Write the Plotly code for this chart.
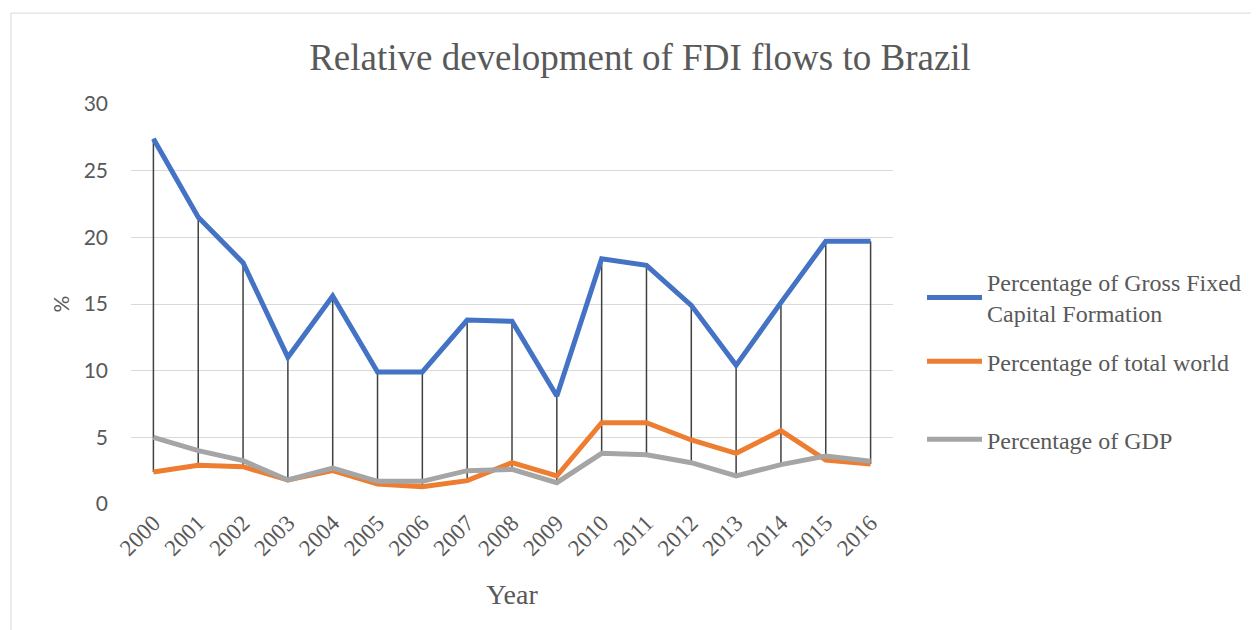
import plotly.graph_objects as go

years = [str(y) for y in range(2000, 2017)]
gfcf = [27.4, 21.5, 18.1, 11.0, 15.6, 9.9, 9.9, 13.8, 13.7, 8.1, 18.4, 17.9, 14.9, 10.4, 15.1, 19.7, 19.7]
world = [2.4, 2.9, 2.8, 1.8, 2.5, 1.5, 1.3, 1.75, 3.1, 2.1, 6.1, 6.1, 4.8, 3.8, 5.5, 3.3, 3.0]
gdp = [5.0, 4.0, 3.25, 1.8, 2.7, 1.7, 1.7, 2.5, 2.6, 1.6, 3.8, 3.7, 3.1, 2.1, 2.95, 3.6, 3.2]

names = ["Percentage of Gross Fixed<br>Capital Formation", "Percentage of total world", "Percentage of GDP"]
colors = ["#4472C4", "#ED7D31", "#A5A5A5"]

SERIF = "Liberation Serif"
SANS = "Lato"
TXT = "#595959"

# high-low lines
hx, hy = [], []
for i, yr in enumerate(years):
    vals = [gfcf[i], world[i], gdp[i]]
    hx += [yr, yr, None]
    hy += [max(vals), min(vals), None]

fig = go.Figure()
fig.add_trace(go.Scatter(x=hx, y=hy, mode="lines", line=dict(color="#404040", width=1.5),
                         showlegend=False, hoverinfo="skip"))
legends = ["legend", "legend2", "legend3"]
for s, n, c, lg in zip([gfcf, world, gdp], names, colors, legends):
    fig.add_trace(go.Scatter(x=years, y=s, mode="lines", name=n, legend=lg,
                             line=dict(color=c, width=5)))

OFF = 8  # page body margin
W, H = 1259 - OFF, 630 - OFF
L, T = 131 - OFF, 104 - OFF
R = W - (893 - OFF)
B = H - (504.5 - OFF)
pw, ph = W - L - R, H - T - B

def px2paper(px, py):
    return (px - OFF - L) / pw, (H - B - (py - OFF)) / ph

def leg(py):
    x, y = px2paper(922, py)
    return dict(x=x, y=y, xanchor="left", yanchor="middle", bgcolor="rgba(0,0,0,0)",
                font=dict(family=SERIF, size=24, color=TXT), itemwidth=55)

x0, y0 = px2paper(11, 13)
x1, y1 = px2paper(1280, 650)

fig.update_layout(
    width=W, height=H,
    margin=dict(l=L, r=R, t=T, b=B),
    paper_bgcolor="white", plot_bgcolor="white",
    font=dict(family=SERIF, color=TXT),
    title=dict(text="Relative development of FDI flows to Brazil", x=(640 - OFF) / W, xanchor="center",
               y=1 - (57 - OFF) / H, yanchor="middle",
               font=dict(family=SERIF, size=37, color=TXT)),
    legend=leg(298), legend2=leg(362), legend3=leg(440),
    xaxis=dict(type="category", range=[-0.5, 16.5], tickangle=-45, showgrid=False,
               ticks="", tickfont=dict(family=SERIF, size=23, color=TXT),
               title=dict(text="Year", font=dict(family=SERIF, size=28, color=TXT), standoff=24)),
    yaxis=dict(range=[0, 30], dtick=5, showgrid=True, gridcolor="#d9d9d9", gridwidth=1,
               zeroline=False, ticks="", ticklabelstandoff=22,
               tickfont=dict(family=SANS, size=21, color=TXT),
               title=dict(text="%", font=dict(family=SANS, size=21, color=TXT), standoff=8)),
    shapes=[dict(type="rect", xref="paper", yref="paper", x0=x0, y0=y1, x1=x1, y1=y0,
                 line=dict(color="#d9d9d9", width=1), fillcolor="rgba(0,0,0,0)", layer="below")],
)

fig.write_html("out.html")
